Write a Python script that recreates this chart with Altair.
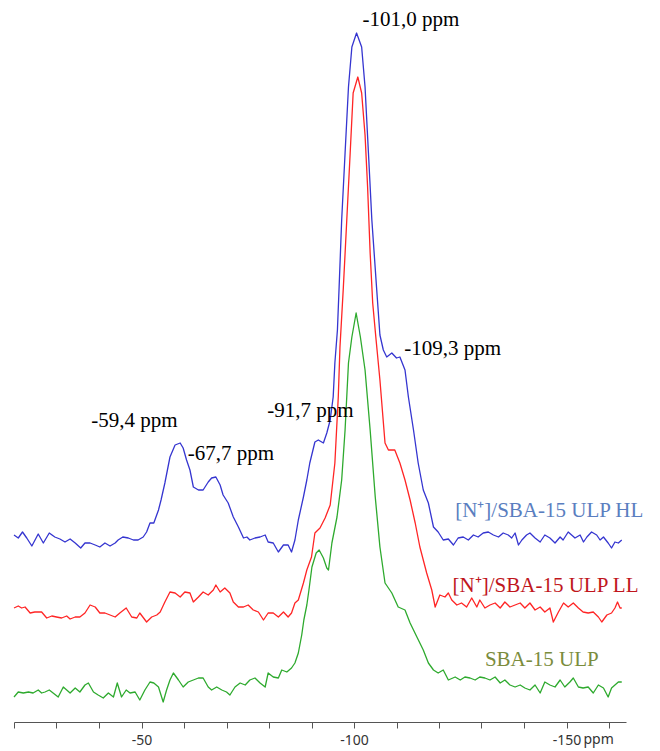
import altair as alt
import pandas as pd

# ---- data (chemical shift in ppm, intensity in a.u., traces offset vertically) ----
blue_ppm = [-20.0,-21.0,-22.0,-23.0,-24.2,-25.7,-26.9,-28.3,-29.6,-30.8,-32.0,-33.2,-34.4,-35.7,-36.7,-37.9,-39.1,-40.2,-41.4,-42.6,-43.8,-44.5,-45.6,-46.9,-48.1,-49.2,-50.4,-51.2,-52.0,-52.9,-54.0,-54.6,-55.5,-56.7,-57.9,-59.1,-59.8,-60.6,-61.4,-62.2,-63.4,-64.5,-65.7,-66.5,-67.5,-68.5,-69.2,-70.4,-71.6,-72.8,-74.0,-74.8,-75.5,-76.7,-77.9,-79.1,-79.8,-81.0,-82.2,-83.4,-84.5,-85.3,-86.1,-86.9,-88.1,-88.9,-89.6,-90.8,-91.6,-92.8,-93.6,-94.4,-95.1,-95.5,-96.1,-96.5,-97.1,-97.9,-98.7,-99.5,-100.6,-101.8,-102.6,-103.4,-104.2,-105.3,-106.1,-106.9,-107.7,-108.9,-110.0,-110.8,-112.0,-112.8,-114.0,-115.1,-116.3,-117.5,-118.7,-119.8,-121.0,-122.2,-123.4,-124.5,-125.7,-126.9,-128.1,-129.2,-130.4,-131.6,-132.8,-134.0,-135.1,-136.3,-137.1,-137.9,-138.7,-139.5,-140.6,-141.4,-142.6,-143.8,-144.9,-146.1,-147.3,-148.5,-149.2,-150.4,-151.2,-152.0,-153.2,-154.0,-154.8,-155.9,-157.1,-157.9,-158.7,-159.8,-160.6,-161.4,-162.2,-163.0]
blue_int = [187,184,190,184,176,188,179,189,185,183,180,183,179,174,179,179,177,175,179,176,179,182,185,184,182,182,185,190,199,199,212,222,239,265,277,279,274,262,252,235,232,232,240,244,245,237,227,219,205,195,184,185,182,184,185,187,180,179,170,177,177,170,182,202,225,242,259,280,282,279,289,302,325,359,392,435,502,569,635,675,689,675,635,569,502,435,387,372,365,369,364,365,352,325,292,259,232,219,195,190,182,183,177,184,185,182,187,185,189,190,187,185,189,187,184,189,177,182,187,189,184,180,187,184,179,185,182,190,187,184,187,180,185,190,187,182,185,179,174,180,179,182]

red_ppm = [-20.0,-21.0,-21.8,-22.6,-23.8,-24.9,-26.5,-27.7,-28.9,-30.0,-31.2,-32.4,-33.2,-34.4,-35.5,-36.7,-37.9,-39.1,-40.2,-41.4,-42.6,-43.8,-44.9,-46.4,-47.7,-48.9,-49.6,-51.2,-52.4,-53.6,-54.4,-55.5,-56.7,-57.9,-59.1,-60.2,-61.4,-62.2,-63.4,-64.5,-65.7,-66.9,-67.5,-68.5,-69.6,-70.8,-71.6,-72.8,-74.0,-75.1,-76.3,-77.5,-78.7,-79.8,-81.0,-82.2,-83.4,-84.5,-85.3,-86.1,-86.9,-88.1,-88.9,-90.0,-90.8,-92.0,-93.2,-94.4,-95.5,-96.3,-96.7,-97.5,-98.3,-99.1,-99.8,-100.9,-101.8,-102.6,-103.2,-103.8,-104.4,-105.2,-106.1,-107.3,-108.1,-109.6,-110.8,-112.0,-113.2,-114.4,-115.5,-117.1,-118.3,-119.1,-120.2,-121.4,-122.2,-123.0,-124.2,-125.3,-126.5,-127.7,-128.9,-129.6,-130.8,-132.0,-133.2,-134.4,-135.5,-136.7,-137.9,-139.1,-140.2,-141.4,-142.6,-143.8,-144.9,-146.1,-146.9,-148.1,-149.3,-150.4,-151.6,-152.8,-153.9,-155.1,-156.3,-157.5,-158.3,-159.5,-160.6,-161.4,-162.0,-162.6,-163.0]
red_int = [114,116,114,115,109,110,110,104,106,105,104,106,103,105,105,109,117,115,109,109,107,105,109,114,105,104,109,100,105,107,110,120,130,129,125,130,129,120,125,130,127,132,137,130,134,129,120,115,115,117,112,110,102,109,109,105,110,105,109,119,122,139,152,165,189,194,204,217,259,325,375,435,502,569,629,645,629,587,535,469,419,382,342,279,272,272,259,242,222,199,175,149,132,115,127,125,129,122,117,119,115,124,115,122,114,117,119,114,120,115,117,119,114,119,112,115,110,114,100,110,119,115,119,114,110,109,110,105,100,107,109,114,120,114,114]

green_ppm = [-20.0,-21.0,-22.2,-23.4,-24.5,-25.7,-26.5,-27.3,-28.3,-29.2,-30.4,-31.6,-32.4,-33.2,-34.4,-35.5,-36.7,-37.5,-38.7,-39.8,-41.0,-42.2,-43.4,-44.3,-45.3,-46.4,-47.3,-48.5,-49.6,-50.8,-52.0,-52.9,-54.0,-55.1,-55.9,-56.7,-57.5,-58.7,-59.8,-61.0,-62.2,-63.4,-64.5,-65.7,-66.5,-67.7,-68.9,-70.0,-70.8,-72.0,-73.2,-74.4,-75.5,-76.7,-77.9,-79.1,-79.8,-81.0,-82.2,-83.0,-84.2,-85.3,-86.1,-86.9,-87.7,-88.2,-88.9,-89.4,-90.1,-91.1,-91.8,-92.8,-93.6,-94.0,-94.8,-96.0,-97.1,-97.9,-98.7,-99.5,-100.5,-101.5,-102.6,-103.8,-105.0,-106.1,-107.3,-108.9,-110.4,-112.0,-113.2,-114.8,-116.3,-117.5,-118.7,-119.8,-121.0,-122.2,-123.8,-125.0,-126.1,-127.3,-128.5,-129.6,-130.8,-132.0,-133.2,-134.4,-135.5,-136.7,-137.9,-139.1,-140.2,-141.4,-142.6,-143.8,-144.9,-146.1,-147.3,-148.5,-149.6,-150.8,-151.6,-152.8,-153.9,-155.1,-156.3,-157.5,-158.7,-159.8,-160.6,-161.4,-162.2,-163.0]
green_int = [25,30,29,30,29,32,29,30,32,29,25,35,32,29,34,30,37,39,30,27,24,29,25,39,25,32,29,30,22,32,40,39,35,20,32,42,49,42,35,40,42,44,44,35,32,35,32,30,27,35,39,37,42,44,39,35,49,45,44,52,50,54,59,69,87,102,117,132,155,169,172,164,154,152,179,205,242,292,359,385,409,385,352,292,225,175,139,129,115,112,99,85,72,59,52,49,52,42,45,42,45,44,42,45,44,42,45,39,42,37,35,37,34,32,37,29,40,37,35,42,35,40,44,35,34,35,29,37,34,25,34,37,40,40]

series_names = ["[N⁺]/SBA-15 ULP HL", "[N⁺]/SBA-15 ULP LL", "SBA-15 ULP"]
series_colors = ["#3535D0", "#FF2525", "#2EAA2E"]
label_colors = ["#5A7EC0", "#C0161C", "#7B8C3C"]

# peak annotations
peak_labels = ["-101,0 ppm", "-109,3 ppm", "-91,7 ppm", "-59,4 ppm", "-67,7 ppm"]
peak_label_ppm = [-102.0, -111.8, -79.6, -38.2, -60.9]
peak_label_int = [696, 367, 305, 295, 262]

# series name labels
name_label_ppm = [-123.8, -123.2, -130.8]
name_label_int = [205, 130, 56]

tick_values = list(range(-20, -161, -10))

# ---- build tables ----
rows = []
for name, xs, ys in [(series_names[0], blue_ppm, blue_int),
                     (series_names[1], red_ppm, red_int),
                     (series_names[2], green_ppm, green_int)]:
    for i, (x, y) in enumerate(zip(xs, ys)):
        rows.append({"series": name, "ppm": x, "intensity": y, "idx": i})
spec = pd.DataFrame(rows)

peaks = pd.DataFrame({"text": peak_labels, "ppm": peak_label_ppm, "intensity": peak_label_int})
names = pd.DataFrame({"text": series_names, "ppm": name_label_ppm, "intensity": name_label_int})
unit = pd.DataFrame({"text": ["ppm"], "ppm": [-150]})

W, H = 612, 709
xscale = alt.Scale(domain=[-164, -20], reverse=True, nice=False, zero=False)
yscale = alt.Scale(domain=[0, H], nice=False, zero=False)

lines = alt.Chart(spec).mark_line(strokeWidth=1.3, strokeJoin="round", clip=False).encode(
    x=alt.X("ppm:Q", scale=xscale,
            axis=alt.Axis(values=tick_values, title=None, grid=False,
                          labelExpr="datum.value % 50 == 0 ? '-' + (-datum.value) : ''",
                          tickSize=6, tickColor="#555555", domainColor="#555555",
                          labelFont="Noto Sans", labelFontSize=14, labelColor="#333333",
                          labelPadding=5, labelFlush=False, labelOverlap=False)),
    y=alt.Y("intensity:Q", scale=yscale, axis=None),
    color=alt.Color("series:N", scale=alt.Scale(domain=series_names, range=series_colors), legend=None),
    order=alt.Order("idx:Q"),
)

peak_text = alt.Chart(peaks).mark_text(
    align="left", baseline="alphabetic", font="Liberation Serif", fontSize=21, color="black"
).encode(x=alt.X("ppm:Q", scale=xscale), y=alt.Y("intensity:Q", scale=yscale), text="text:N")

name_text = alt.Chart(names).mark_text(
    align="left", baseline="alphabetic", font="Liberation Serif", fontSize=21
).encode(
    x=alt.X("ppm:Q", scale=xscale), y=alt.Y("intensity:Q", scale=yscale), text="text:N",
    color=alt.Color("text:N", scale=alt.Scale(domain=series_names, range=label_colors), legend=None),
)

unit_text = alt.Chart(unit).mark_text(
    align="left", baseline="top", font="Noto Sans", fontSize=14, color="#333333", dx=17
).encode(x=alt.X("ppm:Q", scale=xscale), y=alt.value(H + 6 + 5), text="text:N")

chart = alt.layer(lines, peak_text, name_text, unit_text).resolve_scale(color="independent").properties(
    width=W, height=H,
    autosize=alt.AutoSizeParams(type="none"),
    padding={"left": 6, "top": 5, "right": 26, "bottom": 30}
).configure_view(strokeWidth=0)

chart.save("out.html", embed_options={"renderer": "svg", "actions": False})
